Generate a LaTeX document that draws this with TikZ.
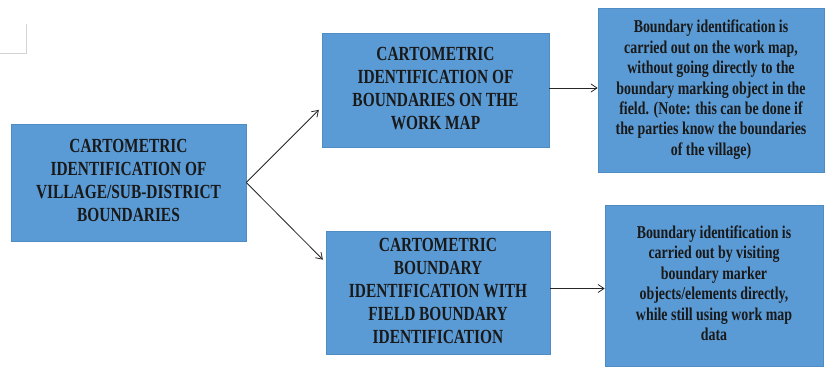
\documentclass[tikz,border=0pt]{standalone}
\usepackage{fontspec}
\setmainfont{Liberation Serif}
\usepackage{graphicx}
\usetikzlibrary{arrows.meta}
\definecolor{boxblue}{HTML}{5B9BD5}
\definecolor{boxedge}{HTML}{4F8CC4}
\definecolor{markgrey}{HTML}{D4D4D4}
\newcommand{\capbox}[1]{\scalebox{1}[1.3]{\fontsize{15.4}{17.7}\selectfont\bfseries\begin{tabular}{@{}c@{}}#1\end{tabular}}}
\newcommand{\txtbox}[1]{\scalebox{1}[1.3]{\fontsize{13.9}{15.7}\selectfont\bfseries\begin{tabular}{@{}c@{}}#1\end{tabular}}}
\begin{document}
\begin{tikzpicture}[x=1pt,y=-1pt,
  bluebox/.style={rectangle, fill=boxblue, draw=boxedge, line width=0.6pt, inner sep=0pt, text=black!90},
  conn/.style={draw=black!85, line width=0.8pt, -{Straight Barb[length=6pt,width=8pt]}},
  cornermark/.style={draw=markgrey, line width=0.8pt}]
\fill[white] (0,0) rectangle (825,376);
\useasboundingbox (0,0) rectangle (825,376);
\draw[cornermark] (0,53) -- (26,53) -- (26,24);
\node[bluebox, minimum width=235pt, minimum height=117pt] (l) at (128.5,182.5)
  {\capbox{CARTOMETRIC\\IDENTIFICATION OF\\VILLAGE/SUB-DISTRICT\\BOUNDARIES}};
\node[bluebox, minimum width=227pt, minimum height=114pt] (tm) at (435.5,90)
  {\capbox{CARTOMETRIC\\IDENTIFICATION OF\\BOUNDARIES ON THE\\WORK MAP}};
\node[bluebox, minimum width=224pt, minimum height=123pt] (bm) at (438,292.5)
  {\capbox{CARTOMETRIC\\BOUNDARY\\IDENTIFICATION WITH\\FIELD BOUNDARY\\IDENTIFICATION}};
\node[bluebox, minimum width=226pt, minimum height=164pt] (tr) at (711,90)
  {\txtbox{Boundary identification is\\carried out on the work map,\\without going directly to the\\boundary marking object in the\\field. (Note: this can be done if\\the parties know the boundaries\\of the village)}};
\node[bluebox, minimum width=218pt, minimum height=161pt] (br) at (714,285.5)
  {\txtbox{Boundary identification is\\carried out by visiting\\boundary marker\\objects/elements directly,\\while still using work map\\data}};
\draw[conn, shorten >=4pt] (l.east) -- ([yshift=-17pt]tm.west);
\draw[conn, shorten >=4pt] (l.east) -- ([yshift=30pt]bm.west);
\draw[conn] ([yshift=2pt]tm.east) -- ([yshift=2pt]tm.east -| tr.west);
\draw[conn] ([yshift=4pt]bm.east) -- ([yshift=4pt]bm.east -| br.west);
\end{tikzpicture}
\end{document}
